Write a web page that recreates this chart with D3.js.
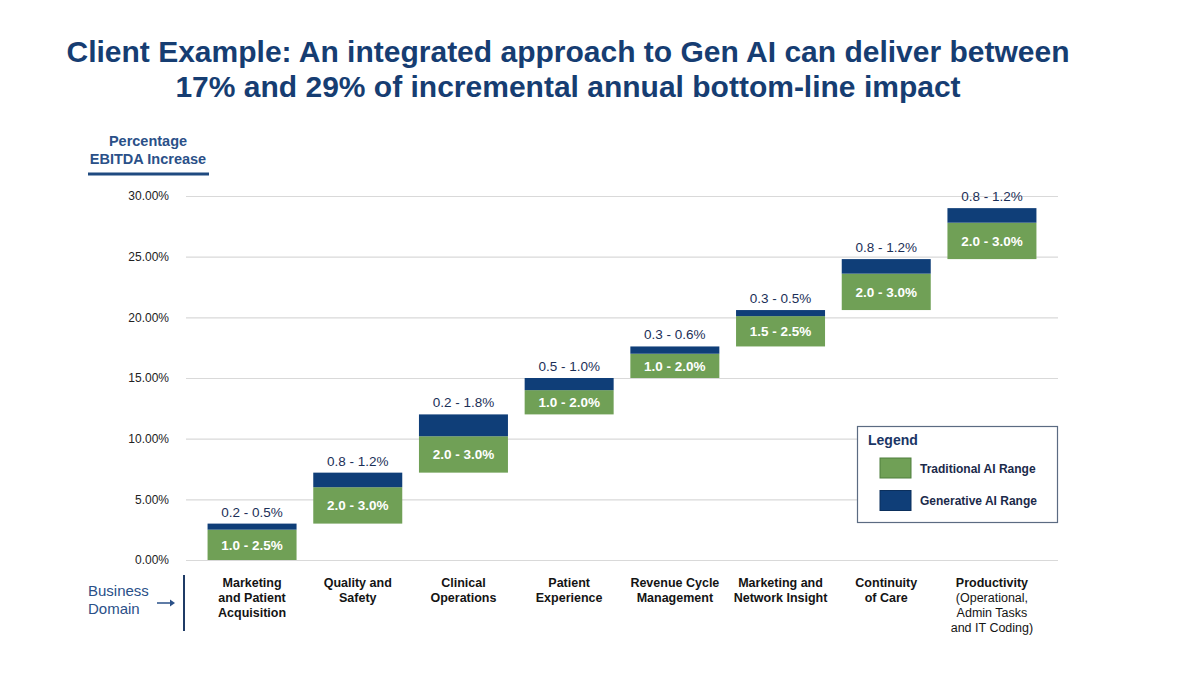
<!DOCTYPE html>
<html>
<head>
<meta charset="utf-8">
<script src="https://cdn.jsdelivr.net/npm/d3@7"></script>
<style>
  html, body { margin: 0; padding: 0; background: #ffffff; }
  svg { display: block; font-family: "Liberation Sans", Arial, sans-serif; }
</style>
</head>
<body>
<svg id="chart" width="1200" height="675"></svg>
<script>
// ---- Data ----
const categories = [
  ["Marketing", "and Patient", "Acquisition"],
  ["Quality and", "Safety"],
  ["Clinical", "Operations"],
  ["Patient", "Experience"],
  ["Revenue Cycle", "Management"],
  ["Marketing and", "Network Insight"],
  ["Continuity", "of Care"],
  ["Productivity", "(Operational,", "Admin Tasks", "and IT Coding)"]
];
const traditionalMax = [2.5, 3.0, 3.0, 2.0, 2.0, 2.5, 3.0, 3.0];
const generativeMax  = [0.5, 1.2, 1.8, 1.0, 0.6, 0.5, 1.2, 1.2];
const traditionalLabels = ["1.0 - 2.5%", "2.0 - 3.0%", "2.0 - 3.0%", "1.0 - 2.0%", "1.0 - 2.0%", "1.5 - 2.5%", "2.0 - 3.0%", "2.0 - 3.0%"];
const generativeLabels  = ["0.2 - 0.5%", "0.8 - 1.2%", "0.2 - 1.8%", "0.5 - 1.0%", "0.3 - 0.6%", "0.3 - 0.5%", "0.8 - 1.2%", "0.8 - 1.2%"];
const yTicks = [0, 5, 10, 15, 20, 25, 30];
const titleLines = [
  "Client Example: An integrated approach to Gen AI can deliver between",
  "17% and 29% of incremental annual bottom-line impact"
];
const legendItems = ["Traditional AI Range", "Generative AI Range"];

// ---- Styles ----
const GREEN = "#70a056";
const NAVY = "#0f3e78";
const TITLE = "#163d72";
const AXISBLUE = "#2a5088";

const svg = d3.select("#chart");

// Build waterfall rows
let base = 0;
const rows = categories.map((c, i) => {
  const g0 = base, g1 = base + traditionalMax[i], n1 = g1 + generativeMax[i];
  base = n1;
  return { i, cat: c, g0, g1, n1, tl: traditionalLabels[i], gl: generativeLabels[i] };
});

const x = d3.scaleBand().domain(d3.range(categories.length))
  .range([186, 1058]).paddingInner(0.158).paddingOuter(0.204);
const y = d3.scaleLinear().domain([0, 30]).range([560, 196]);

// Title
svg.append("g").selectAll("text").data(titleLines).join("text")
  .attr("x", 568).attr("y", (d, i) => 62 + i * 35)
  .attr("text-anchor", "middle")
  .attr("font-size", 30).attr("font-weight", "bold").attr("fill", TITLE)
  .text(d => d);

// Gridlines + y axis
const yAxis = d3.axisLeft(y).tickValues(yTicks)
  .tickFormat(d => d3.format(".2f")(d) + "%")
  .tickSize(-(1058 - 186)).tickPadding(17);
const ya = svg.append("g").attr("transform", "translate(186,0)").call(yAxis);
ya.select(".domain").remove();
ya.selectAll(".tick line").attr("stroke", "#d9d9d9").attr("stroke-width", 1.2);
ya.selectAll(".tick text").attr("font-size", 12).attr("fill", "#222")
  .attr("font-family", "Liberation Sans, Arial, sans-serif");

// Y label
svg.append("text").attr("x", 148).attr("y", 146).attr("text-anchor", "middle")
  .attr("font-size", 14.5).attr("font-weight", "bold").attr("fill", AXISBLUE).text("Percentage");
svg.append("text").attr("x", 148).attr("y", 164).attr("text-anchor", "middle")
  .attr("font-size", 14.5).attr("font-weight", "bold").attr("fill", AXISBLUE).text("EBITDA Increase");
svg.append("line").attr("x1", 88).attr("x2", 209).attr("y1", 174).attr("y2", 174)
  .attr("stroke", "#1f4a80").attr("stroke-width", 3);

// Bars
const bars = svg.append("g");
bars.selectAll("rect.trad").data(rows).join("rect").attr("class", "trad")
  .attr("x", d => x(d.i)).attr("width", x.bandwidth())
  .attr("y", d => y(d.g1)).attr("height", d => y(d.g0) - y(d.g1))
  .attr("fill", GREEN);
bars.selectAll("rect.gen").data(rows).join("rect").attr("class", "gen")
  .attr("x", d => x(d.i)).attr("width", x.bandwidth())
  .attr("y", d => y(d.n1)).attr("height", d => y(d.g1) - y(d.n1))
  .attr("fill", NAVY);

// Labels
bars.selectAll("text.tl").data(rows).join("text").attr("class", "tl")
  .attr("x", d => x(d.i) + x.bandwidth() / 2)
  .attr("y", d => (y(d.g0) + y(d.g1)) / 2 + 5)
  .attr("text-anchor", "middle").attr("font-size", 13.5).attr("font-weight", "bold")
  .attr("fill", "#ffffff").text(d => d.tl);
bars.selectAll("text.gl").data(rows).join("text").attr("class", "gl")
  .attr("x", d => x(d.i) + x.bandwidth() / 2)
  .attr("y", d => y(d.n1) - 7)
  .attr("text-anchor", "middle").attr("font-size", 13.5)
  .attr("fill", "#1b2f57").text(d => d.gl);

// X category labels
const xl = svg.append("g");
rows.forEach(d => {
  const t = xl.append("text").attr("x", x(d.i) + x.bandwidth() / 2).attr("y", 587)
    .attr("text-anchor", "middle").attr("font-size", 12.5).attr("fill", "#141414");
  d.cat.forEach((line, j) => {
    t.append("tspan").attr("x", x(d.i) + x.bandwidth() / 2).attr("dy", j === 0 ? 0 : 15)
      .attr("font-weight", (d.i === 7 && j > 0) ? "normal" : "bold").text(line);
  });
});

// Business Domain label
svg.append("text").attr("x", 88).attr("y", 596).attr("font-size", 15).attr("fill", AXISBLUE).text("Business");
svg.append("text").attr("x", 88).attr("y", 614).attr("font-size", 15).attr("fill", AXISBLUE).text("Domain");
svg.append("line").attr("x1", 157).attr("x2", 172).attr("y1", 603).attr("y2", 603)
  .attr("stroke", AXISBLUE).attr("stroke-width", 1.5);
svg.append("path").attr("d", "M170,599.5 L175,603 L170,606.5 Z").attr("fill", AXISBLUE);
svg.append("line").attr("x1", 184).attr("x2", 184).attr("y1", 575).attr("y2", 631)
  .attr("stroke", "#1f3b66").attr("stroke-width", 2);

// Legend
const lg = svg.append("g");
lg.append("rect").attr("x", 857.5).attr("y", 426.5).attr("width", 200).attr("height", 96)
  .attr("fill", "#fff").attr("stroke", "#5b6b82").attr("stroke-width", 1.2);
lg.append("text").attr("x", 868).attr("y", 445).attr("font-size", 14).attr("font-weight", "bold")
  .attr("fill", "#1a3565").text("Legend");
const legColors = [GREEN, NAVY];
lg.selectAll("rect.sw").data(legendItems).join("rect").attr("class", "sw")
  .attr("x", 880).attr("y", (d, i) => 458 + i * 32.5).attr("width", 31).attr("height", 20)
  .attr("fill", (d, i) => legColors[i])
  .attr("stroke", (d, i) => i === 0 ? "#4e7f3c" : "#0b2f5c").attr("stroke-width", 1);
lg.selectAll("text.lt").data(legendItems).join("text").attr("class", "lt")
  .attr("x", 920).attr("y", (d, i) => 472.5 + i * 32.5).attr("font-size", 12)
  .attr("font-weight", "bold").attr("fill", "#1b2a4a").text(d => d);
</script>
</body>
</html>
